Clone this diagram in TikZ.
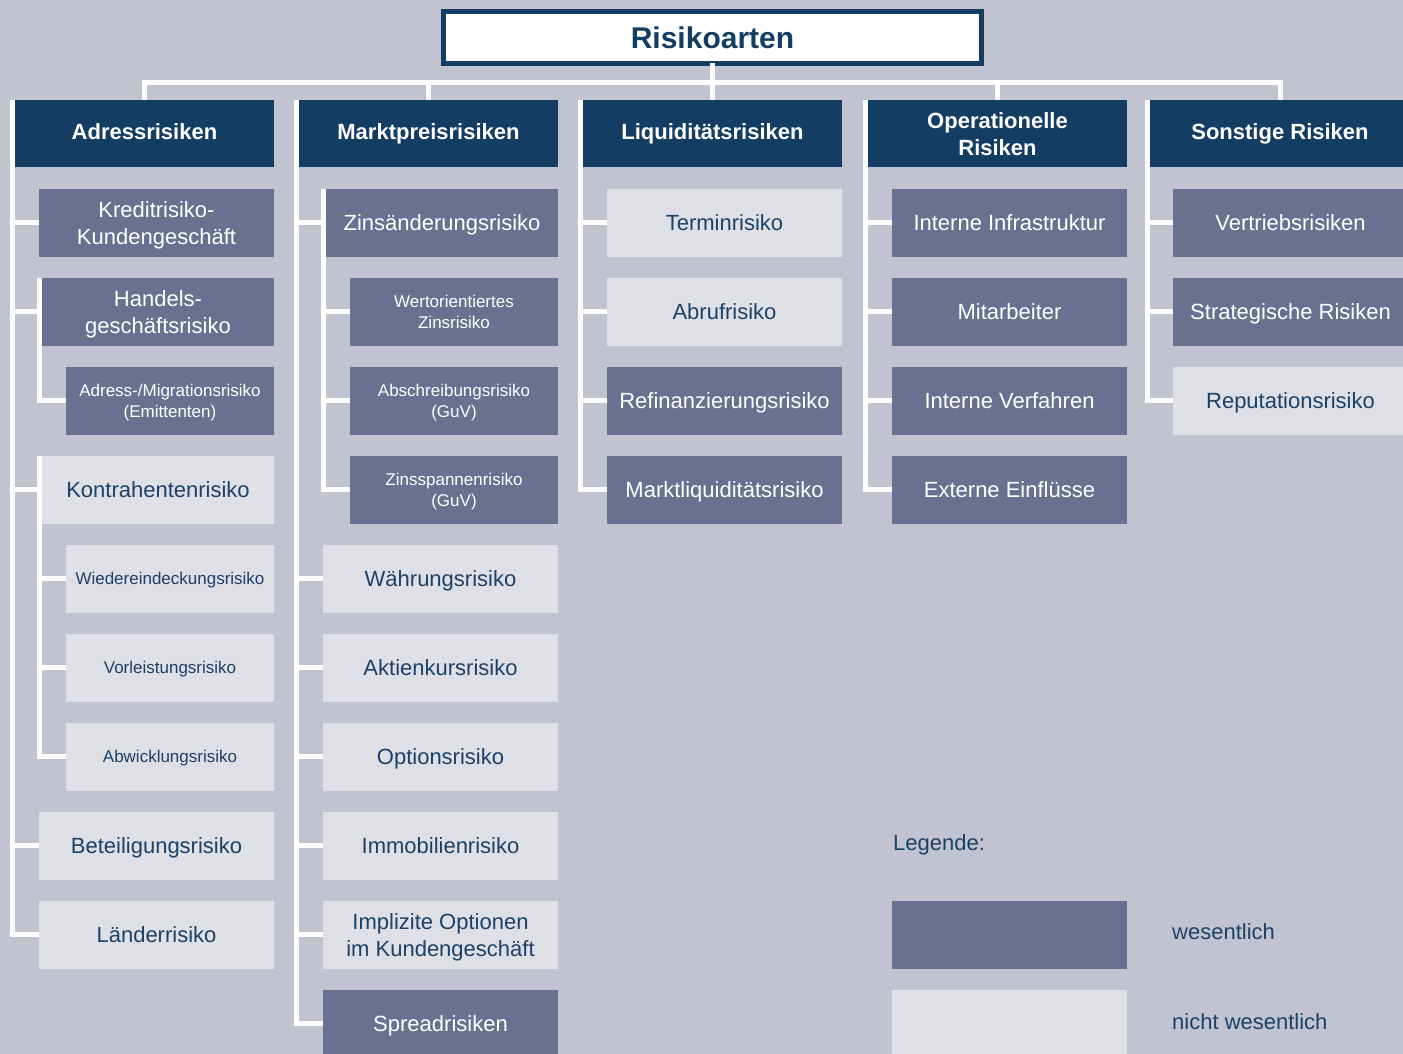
\documentclass[tikz,border=0pt]{standalone}
\usepackage{fontspec}
\setmainfont{Liberation Sans}

\definecolor{bg}{HTML}{C1C3D0}
\definecolor{navy}{HTML}{133D63}
\definecolor{dk}{HTML}{687290}
\definecolor{lt}{HTML}{DFE0E6}
\definecolor{ink}{HTML}{1A4168}

\newcommand\fsz[2]{\fontsize{#1}{#2}\selectfont}
% strut balanced around the middle of the capitals, with extra height #1 and extra depth #2
\newcommand\capstrut[2]{\rule[\dimexpr-0.25em-#2\relax]{0pt}{\dimexpr1.216em+#1+#2\relax}}
% same strut for the first line of a two-line label
\newcommand\firstline{\capstrut{0pt}{0pt}}

\tikzset{
  conn/.style={draw=white, line width=5pt, line join=miter},
  capmid/.style={execute at end node=\capstrut{0pt}{0pt}},
  textup/.style={execute at end node=\capstrut{0pt}{#1}},
  box/.style={anchor=north west, inner sep=0pt, outer sep=0pt,
              minimum height=67.5pt, align=center, capmid},
  wd/.style={minimum width=#1},
  headbase/.style={box, fill=navy, text=white, font=\fsz{22}{27}\bfseries,
               minimum width=259pt},
  head/.style={headbase, textup=4pt},
  ess/.style={box, fill=dk, text=white, font=\fsz{22}{27}},
  minor/.style={box, fill=lt, text=ink, font=\fsz{22}{27}},
  sm/.style={font=\fsz{17}{21}},
  legtext/.style={anchor=west, inner sep=0pt, text=ink, font=\fsz{22}{27}, capmid},
}

\begin{document}
\begin{tikzpicture}[x=1pt, y=-1pt]
  % canvas
  \fill[bg] (0,0) rectangle (1403,1054);
  \useasboundingbox (0,0) rectangle (1403,1054);

  % title
  \node[draw=navy, line width=5pt, fill=white, anchor=north west, capmid,
        minimum width=538pt, minimum height=52pt, inner sep=0pt, outer sep=0pt,
        font=\fsz{30}{36}\bfseries, text=navy] (title) at (443.5,11.5) {Risikoarten};

  % column headers
  \node[head] (hA) at (15,100)  {Adressrisiken};
  \node[head] (hB) at (299,100) {Marktpreisrisiken};
  \node[head] (hC) at (583,100) {Liquiditätsrisiken};
  \node[headbase] (hD) at (868,100) {\firstline Operationelle\\Risiken};
  \node[head, minimum width=260pt] (hE) at (1150,100) {Sonstige Risiken};

  % Adressrisiken
  \node[ess, wd=235pt] (a1) at (39,189) {\firstline Kreditrisiko-\\Kundengeschäft};
  \node[ess, wd=232pt] (a2) at (42,278) {\firstline Handels-\\geschäftsrisiko};
  \node[ess, sm, wd=208pt] (a3) at (66,367) {\firstline Adress-/Migrationsrisiko\\(Emittenten)};
  \node[minor, wd=232pt] (a4) at (42,456) {Kontrahentenrisiko};
  \node[minor, sm, wd=208pt] (a5) at (66,545) {Wiedereindeckungsrisiko};
  \node[minor, sm, wd=208pt] (a6) at (66,634) {Vorleistungsrisiko};
  \node[minor, sm, wd=208pt] (a7) at (66,723) {Abwicklungsrisiko};
  \node[minor, wd=235pt] (a8) at (39,812) {Beteiligungsrisiko};
  \node[minor, wd=235pt] (a9) at (39,901) {Länderrisiko};

  % Marktpreisrisiken
  \node[ess, wd=232pt] (b1) at (326,189) {Zinsänderungsrisiko};
  \node[ess, sm, wd=208pt] (b2) at (350,278) {\firstline Wertorientiertes\\Zinsrisiko};
  \node[ess, sm, wd=208pt] (b3) at (350,367) {\firstline Abschreibungsrisiko\\(GuV)};
  \node[ess, sm, wd=208pt] (b4) at (350,456) {\firstline Zinsspannenrisiko\\(GuV)};
  \node[minor, wd=235pt] (b5) at (323,545) {Währungsrisiko};
  \node[minor, wd=235pt] (b6) at (323,634) {Aktienkursrisiko};
  \node[minor, wd=235pt] (b7) at (323,723) {Optionsrisiko};
  \node[minor, wd=235pt] (b8) at (323,812) {Immobilienrisiko};
  \node[minor, wd=235pt] (b9) at (323,901) {\firstline Implizite Optionen\\im Kundengeschäft};
  \node[ess, wd=235pt] (b10) at (323,990) {Spreadrisiken};

  % Liquiditätsrisiken
  \node[minor, wd=235pt] (c1) at (607,189) {Terminrisiko};
  \node[minor, wd=235pt] (c2) at (607,278) {Abrufrisiko};
  \node[ess, wd=235pt] (c3) at (607,367) {Refinanzierungsrisiko};
  \node[ess, wd=235pt] (c4) at (607,456) {Marktliquiditätsrisiko};

  % Operationelle Risiken
  \node[ess, wd=235pt] (d1) at (892,189) {Interne Infrastruktur};
  \node[ess, wd=235pt] (d2) at (892,278) {Mitarbeiter};
  \node[ess, wd=235pt] (d3) at (892,367) {Interne Verfahren};
  \node[ess, wd=235pt] (d4) at (892,456) {Externe Einflüsse};

  % Sonstige Risiken
  \node[ess, wd=235pt] (e1) at (1173,189) {Vertriebsrisiken};
  \node[ess, wd=235pt] (e2) at (1173,278) {Strategische Risiken};
  \node[minor, wd=235pt] (e3) at (1173,367) {Reputationsrisiko};

  % legend
  \node[legtext] (leg) at (893,843) {Legende:};
  \node[ess, wd=235pt] (legdk) at (892,901) {};
  \node[minor, wd=235pt] (leglt) at (892,990) {};
  \node[legtext] (legdktxt) at (1172,932) {wesentlich};
  \node[legtext] (legltxt) at (1172,1022) {nicht wesentlich};

  % top bus
  \coordinate (busy) at (0,82.5);
  \draw[conn] (hA.north) -- (hA.north |- busy) -- (hE.north |- busy) -- (hE.north);
  \draw[conn] (hB.north) -- (hB.north |- busy);
  \draw[conn] (hD.north) -- (hD.north |- busy);
  \draw[conn] (title.south) -- (title.south |- hC.north);

  % trunks
  \coordinate (tA) at ([xshift=-2.5pt]hA.north west);
  \coordinate (tB) at ([xshift=-2.5pt]hB.north west);
  \coordinate (tC) at ([xshift=-2.5pt]hC.north west);
  \coordinate (tD) at ([xshift=-2.5pt]hD.north west);
  \coordinate (tE) at ([xshift=-2.5pt]hE.north west);
  \coordinate (sA2) at ([xshift=-2.5pt]a2.north west);
  \coordinate (sA4) at ([xshift=-2.5pt]a4.north west);
  \coordinate (sB1) at ([xshift=-2.5pt]b1.north west);

  \foreach \n in {a1,a2,a4,a8,a9} \draw[conn] (tA) |- (\n.west);
  \draw[conn] (sA2) |- (a3.west);
  \foreach \n in {a5,a6,a7} \draw[conn] (sA4) |- (\n.west);

  \foreach \n in {b1,b5,b6,b7,b8,b9,b10} \draw[conn] (tB) |- (\n.west);
  \foreach \n in {b2,b3,b4} \draw[conn] (sB1) |- (\n.west);

  \foreach \n in {c1,c2,c3,c4} \draw[conn] (tC) |- (\n.west);
  \foreach \n in {d1,d2,d3,d4} \draw[conn] (tD) |- (\n.west);
  \foreach \n in {e1,e2,e3} \draw[conn] (tE) |- (\n.west);
\end{tikzpicture}
\end{document}
